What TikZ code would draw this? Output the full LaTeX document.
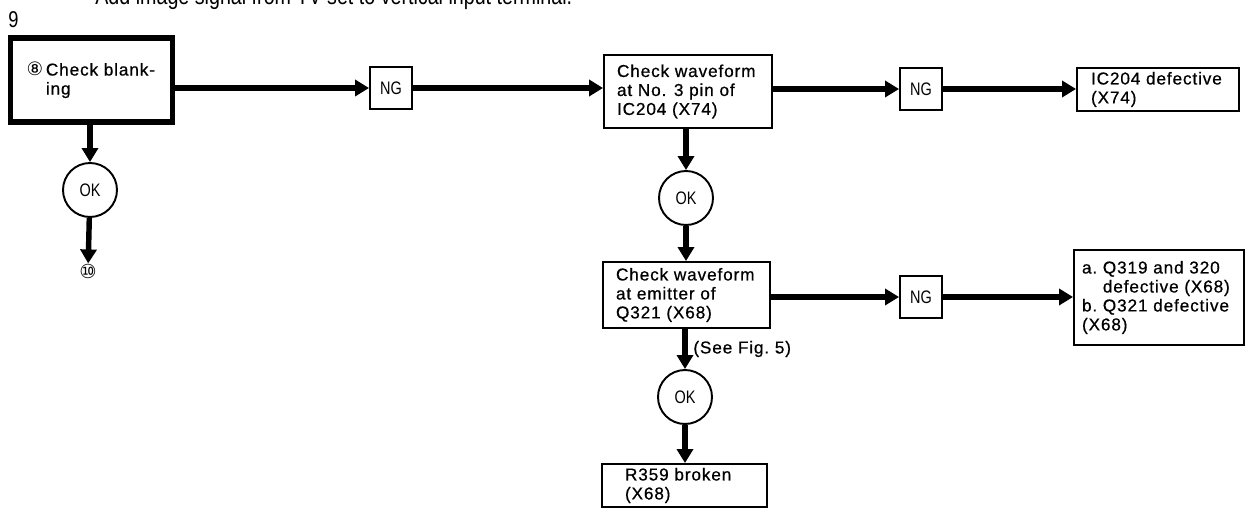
\documentclass[tikz,border=0pt]{standalone}
\usepackage{fontspec}
\setmainfont{Liberation Sans}[LetterSpace=5, FakeBold=0.6]
\newfontfamily\narrowfont{Liberation Sans}[FakeStretch=0.8]
\newfontfamily\symbfont{DejaVu Sans}
\usetikzlibrary{arrows.meta}
\newcommand{\boxtext}[3]{\hspace*{#1}\parbox{#2}{\raggedright #3}}

\begin{document}
\begin{tikzpicture}[x=0.02cm, y=-0.02cm]
            \tikzstyle{every node}+=[inner sep=0pt]
            \tikzstyle{box}=[draw, line width=1.1pt, font=\fontsize{9.8}{10.8}\selectfont]
            \tikzstyle{bigbox}=[box, line width=3.2pt]
            \tikzstyle{ngbox}=[draw, line width=1.1pt, minimum width=0.84cm, minimum height=0.84cm, font=\narrowfont\fontsize{10.3}{12}\selectfont]
            \tikzstyle{okcircle}=[draw, circle, line width=1.1pt, minimum size=1.08cm, font=\narrowfont\fontsize{10.3}{12}\selectfont]
            \tikzstyle{flow}=[line width=3.1pt, -{Triangle[length=0.28cm,width=0.32cm]}]
            \useasboundingbox (0,0) rectangle (1245,509);
            \node [anchor=base west, font=\narrowfont\fontsize{14}{16}\selectfont] (header) at (95,5) {Add image signal from TV set to vertical input terminal.};
            \node [anchor=base, font=\narrowfont\fontsize{13}{15}\selectfont] (fignum) at (13.5,28) {9};
            \node [bigbox, minimum width=3.24cm, minimum height=1.68cm] (blank) at (91.5,80) {\boxtext{0.32cm}{2.92cm}{{\symbfont\fontsize{10.5}{10.8}\selectfont ⑧}\,Check blank-\\\hphantom{{\symbfont\fontsize{10.5}{10.8}\selectfont ⑧}\,}ing}};
            \node [ngbox] (ng1) at (391,88) {NG};
            \node [box, minimum width=3.36cm, minimum height=1.46cm] (wave3) at (688,91.5) {\boxtext{0.26cm}{3.1cm}{Check waveform\\at No. 3 pin of\\IC204 (X74)}};
            \node [ngbox] (ng2) at (921,89) {NG};
            \node [box, minimum width=3.24cm, minimum height=0.86cm] (ic204) at (1158,89.5) {\boxtext{0.28cm}{2.96cm}{IC204 defective\\(X74)}};
            \node [okcircle] (ok1) at (90,190) {OK};
            \node [font=\symbfont\fontsize{11}{12}\selectfont] (next) at (88,271) {⑩};
            \node [okcircle] (ok2) at (686,198) {OK};
            \node [box, minimum width=3.34cm, minimum height=1.32cm] (emitter) at (686.5,295) {\boxtext{0.26cm}{3.08cm}{Check waveform\\at emitter of\\Q321 (X68)}};
            \node [ngbox] (ng3) at (921,297) {NG};
            \node [box, minimum width=3.4cm, minimum height=1.9cm] (q319) at (1159,297.5) {\boxtext{0.16cm}{3.24cm}{a.~Q319 and 320\\\hphantom{a.~}defective (X68)\\b.~Q321 defective\\(X68)}};
            \node [anchor=west, font=\fontsize{9.8}{10.8}\selectfont] (seefig) at (693,349) {(See Fig.~5)};
            \node [okcircle] (ok3) at (685,397) {OK};
            \node [box, minimum width=3.3cm, minimum height=0.86cm] (r359) at (684.5,485.5) {\boxtext{0.46cm}{2.84cm}{R359 broken\\(X68)}};
            \draw [flow] (blank.east |- ng1) -- (ng1);
            \draw [flow] (ng1) -- (ng1 -| wave3.west);
            \draw [flow] (wave3.east |- ng2) -- (ng2);
            \draw [flow] (ng2) -- (ng2 -| ic204.west);
            \draw [flow] (blank.south -| ok1) -- (ok1);
            \draw [flow] (ok1) -- (next);
            \draw [flow] (wave3.south -| ok2) -- (ok2);
            \draw [flow] (ok2) -- (ok2 |- emitter.north);
            \draw [flow] (emitter.east |- ng3) -- (ng3);
            \draw [flow] (ng3) -- (ng3 -| q319.west);
            \draw [flow] (emitter.south -| ok3) -- (ok3);
            \draw [flow] (ok3) -- (ok3 |- r359.north);
        \end{tikzpicture}
\end{document}
